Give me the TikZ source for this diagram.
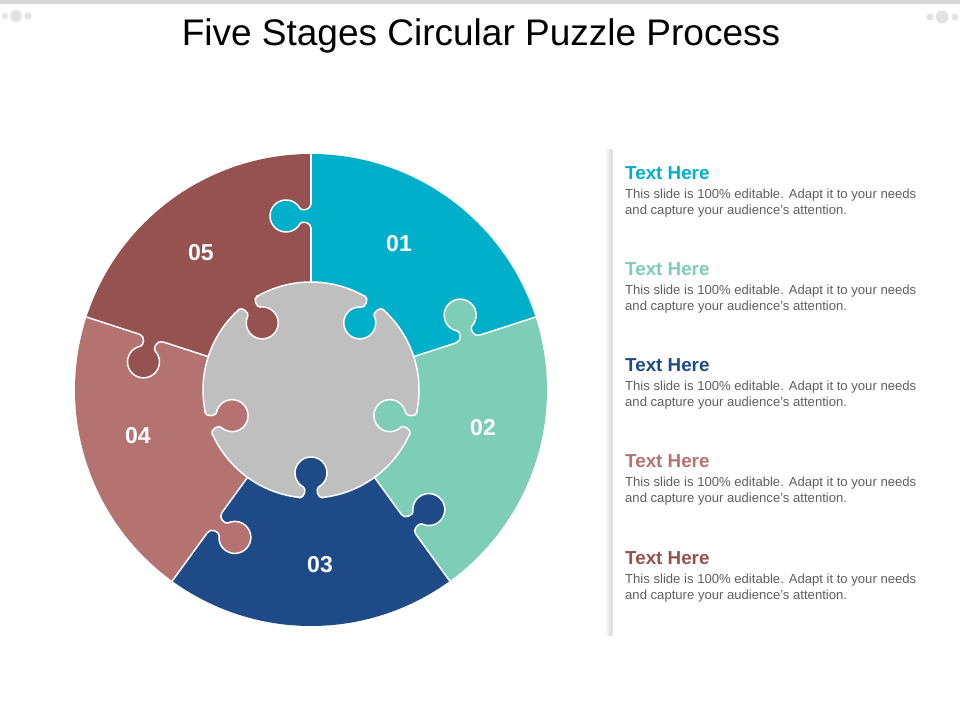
\documentclass[tikz,border=0pt]{standalone}
\usepackage{fontspec}
\setmainfont{Liberation Sans}
\definecolor{cA}{HTML}{00B0CA}
\definecolor{cB}{HTML}{7ECDB6}
\definecolor{cC}{HTML}{1E4B87}
\definecolor{cD}{HTML}{B47371}
\definecolor{cE}{HTML}{955251}
\definecolor{cG}{HTML}{BFBFBF}
\definecolor{bodygray}{HTML}{5F5F5F}
\newcommand{\ptab}[4]{%
  \begin{scope}[shift={(311,330)}, rotate=#1, shift={(#2,#3)}]
    \fill[#4] (-12,-2) -- (-12,0) .. controls (-6,0) and (-4.85,9.5) .. (-7.5,10.9)
      arc[start angle=242, end angle=-62, radius=16]
      .. controls (4.85,9.5) and (6,0) .. (12,0) -- (12,-2) -- cycle;
    \draw[seam] (-12,0) .. controls (-6,0) and (-4.85,9.5) .. (-7.5,10.9)
      arc[start angle=242, end angle=-62, radius=16]
      .. controls (4.85,9.5) and (6,0) .. (12,0);
  \end{scope}}
\begin{document}
\begin{tikzpicture}[x=1pt,y=1pt,
  seam/.style={draw=white, line width=1.5pt},
  num/.style={text=white, font=\fontsize{23}{26}\selectfont\bfseries, inner sep=0},
  head/.style={anchor=base west, inner sep=0, font=\fontsize{18.8}{22}\selectfont\bfseries},
  body/.style={anchor=base west, inner sep=0, text=bodygray, font=\fontsize{13.1}{15}\selectfont}]
\useasboundingbox (0,0) rectangle (960,720);
% top bar and corner icons
\fill[black!15] (0,716) rectangle (960,720);
\fill[black!11] (5,704) circle[radius=3] (16,704) circle[radius=6] (28,704) circle[radius=3.5];
\fill[black!11] (930,703) circle[radius=3.5] (942,703) circle[radius=6.5] (955,703) circle[radius=3.5];
% title
\node[anchor=base, inner sep=0, font=\fontsize{37}{40}\selectfont] (title) at (481,674) {Five Stages Circular Puzzle Process};
% sectors
\fill[cA] (311,330) -- ++(18:236) arc[start angle=18, end angle=90, radius=236] -- cycle;
\fill[cB] (311,330) -- ++(-54:236) arc[start angle=-54, end angle=18, radius=236] -- cycle;
\fill[cC] (311,330) -- ++(-126:236) arc[start angle=-126, end angle=-54, radius=236] -- cycle;
\fill[cD] (311,330) -- ++(162:236) arc[start angle=162, end angle=234, radius=236] -- cycle;
\fill[cE] (311,330) -- ++(90:236) arc[start angle=90, end angle=162, radius=236] -- cycle;
\foreach \a in {90,18,-54,-126,162} \draw[seam] (311,330) -- ++(\a:236);
% outer tabs
\foreach \a/\r/\c in {90/174/cA, 18/165/cB, -54/166/cC, -126/164/cD, 162/168/cE}
  \ptab{\a}{\r}{0}{\c};
% centre disc
\filldraw[fill=cG, seam] (311,330) circle[radius=108];
% inner tabs
\foreach \a/\c in {54/cA, -18/cB, -90/cC, 198/cD, 126/cE}
  \ptab{\a+90}{0}{-108}{\c};
% numbers
\node[num] (n01) at (399,476) {01};
\node[num] (n02) at (483,292) {02};
\node[num] (n03) at (320,155) {03};
\node[num] (n04) at (138,284) {04};
\node[num] (n05) at (201,467) {05};
% text panel separator
\shade[left color=white, right color=black!16] (605,85) rectangle (612,570);
\draw[black!10, line width=0.8pt] (612.4,85) -- (612.4,570);
\foreach \i/\col in {0/cA,1/cB,2/cC,3/cD,4/cE} {
  \pgfmathsetmacro\yh{540-96*\i}
  \node[head, text=\col] (h\i) at (625,\yh) {Text Here};
  \node[body] (ba\i) at (625,\yh-19) {This slide is 100\% editable. Adapt it to your needs};
  \node[body] (bb\i) at (625,\yh-35) {and capture your audience's attention.};
}
\end{tikzpicture}
\end{document}
